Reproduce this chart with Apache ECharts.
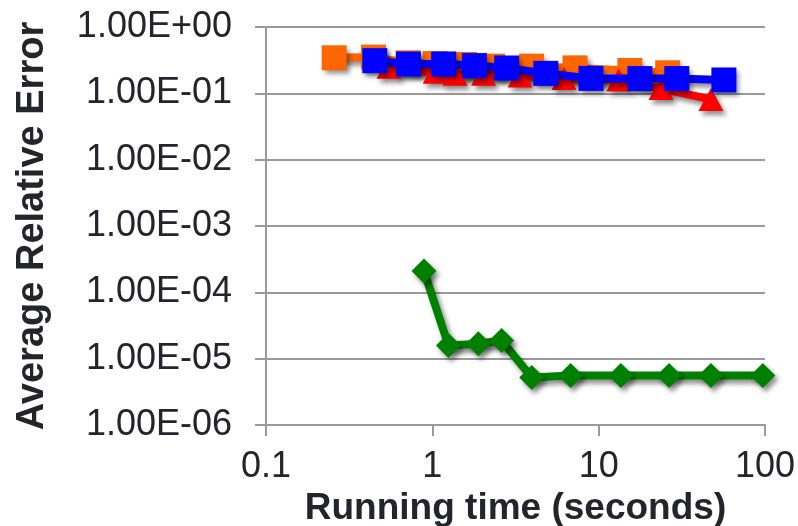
<!DOCTYPE html>
<html>
<head>
<meta charset="utf-8">
<script src="https://cdn.jsdelivr.net/npm/echarts@6/dist/echarts.min.js"></script>
<style>
  html, body { margin: 0; padding: 0; background: #fff; }
  #chart { width: 798px; height: 526px; }
</style>
</head>
<body>
<div id="chart"></div>
<script>
// Running time (s) and average relative error for each method
const orangeTime  = [0.257, 0.443, 0.715, 1.04, 1.56, 2.30, 3.95, 7.21, 15.4, 26.0];
const orangeError = [0.343, 0.352, 0.288, 0.281, 0.272, 0.257, 0.257, 0.242, 0.221, 0.204];

const redTime  = [0.549, 1.04, 1.37, 2.03, 3.37, 6.19, 13.2, 23.7, 47.3];
const redError = [0.247, 0.207, 0.194, 0.194, 0.182, 0.167, 0.159, 0.118, 0.081];

const blueTime  = [0.451, 0.718, 1.17, 1.79, 2.80, 4.81, 8.99, 17.7, 29.5, 56.6];
const blueError = [0.311, 0.277, 0.277, 0.262, 0.241, 0.200, 0.168, 0.167, 0.167, 0.159];

const greenTime  = [0.891, 1.25, 1.89, 2.61, 3.96, 6.78, 13.6, 26.5, 47.3, 97.0];
const greenError = [2.09e-4, 1.58e-5, 1.68e-5, 1.88e-5, 5.2e-6, 5.58e-6, 5.58e-6, 5.58e-6, 5.58e-6, 5.58e-6];

const xTickLabels = ['0.1', '1', '10', '100'];

const pair = (xs, ys) => xs.map((x, i) => [x, ys[i]]);

const FONT = "'Liberation Sans', Arial, Helvetica, sans-serif";
const TEXT = '#24242c';
const GRID = '#9a9a9a';

function sci(v) {
  const e = Math.round(Math.log10(v));
  const sign = e < 0 ? '-' : '+';
  const mag = String(Math.abs(e)).padStart(2, '0');
  return '1.00E' + sign + mag;
}

const shadow = {
  shadowColor: 'rgba(0,0,0,0.45)',
  shadowBlur: 5,
  shadowOffsetX: 3,
  shadowOffsetY: 4
};

function series(name, data, color, symbol, size, z) {
  return {
    name, type: 'line', data, z,
    symbol, symbolSize: size,
    lineStyle: Object.assign({ color, width: 8 }, shadow),
    itemStyle: Object.assign({ color }, shadow),
    emphasis: { disabled: true },
    animation: false
  };
}

const chart = echarts.init(document.getElementById('chart'), null, { renderer: 'canvas' });
chart.setOption({
  backgroundColor: '#ffffff',
  animation: false,
  grid: {
    left: 266, right: 33, top: 27, bottom: 101,
    containLabel: false, outerBoundsMode: 'none'
  },
  xAxis: {
    type: 'log', logBase: 10, min: 0.1, max: 100,
    name: 'Running time (seconds)',
    nameLocation: 'middle', nameGap: 62,
    nameTextStyle: { fontFamily: FONT, fontSize: 37, fontWeight: 'bold', color: TEXT },
    axisLine: { show: true, lineStyle: { color: GRID, width: 2 } },
    axisTick: { show: true, inside: false, length: 11, lineStyle: { color: GRID, width: 2 } },
    minorTick: { show: false },
    splitLine: { show: false },
    axisLabel: {
      margin: 24, fontFamily: FONT, fontSize: 36, color: TEXT,
      formatter: v => xTickLabels[Math.round(Math.log10(v)) + 1]
    }
  },
  yAxis: {
    type: 'log', logBase: 10, min: 1e-6, max: 1,
    name: 'Average Relative Error',
    nameLocation: 'middle', nameGap: 214, nameRotate: 90,
    nameTextStyle: { fontFamily: FONT, fontSize: 38, fontWeight: 'bold', color: TEXT },
    axisLine: { show: true, lineStyle: { color: GRID, width: 2 } },
    axisTick: { show: true, inside: false, length: 11, lineStyle: { color: GRID, width: 2 } },
    splitLine: { show: true, lineStyle: { color: GRID, width: 2 } },
    axisLabel: {
      margin: 34, fontFamily: FONT, fontSize: 36, color: TEXT,
      formatter: v => sci(v)
    }
  },
  series: [
    series('orange', pair(orangeTime, orangeError), '#ff6600', 'rect', 25, 2),
    series('red', pair(redTime, redError), '#ff0000', 'triangle', [25, 23], 3),
    series('blue', pair(blueTime, blueError), '#0000ff', 'rect', 25, 4),
    series('green', pair(greenTime, greenError), '#008000', 'diamond', 25, 5)
  ]
});
</script>
</body>
</html>
